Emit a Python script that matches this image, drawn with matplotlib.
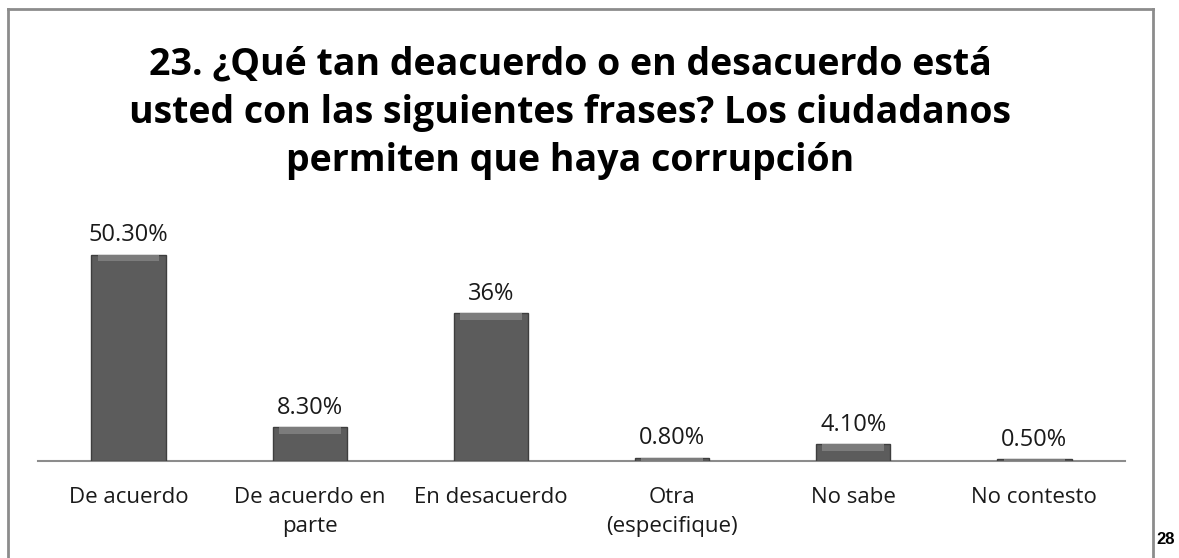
import matplotlib
matplotlib.use("Agg")
import matplotlib.pyplot as plt
from matplotlib.lines import Line2D

categories = ["De acuerdo", "De acuerdo en\nparte", "En desacuerdo",
              "Otra\n(especifique)", "No sabe", "No contesto"]
values = [50.3, 8.3, 36, 0.8, 4.1, 0.5]
value_labels = ["50.30%", "8.30%", "36%", "0.80%", "4.10%", "0.50%"]
title = ("23. ¿Qué tan deacuerdo o en desacuerdo está\n"
         "usted con las siguientes frases? Los ciudadanos\n"
         "permiten que haya corrupción")

plt.rcParams["font.family"] = ["Open Sans", "DejaVu Sans"]

W, H = 1179, 558
fig = plt.figure(figsize=(W / 100, H / 100), dpi=100)
fig.patch.set_facecolor("white")

# outer frame (bottom edge runs off the page)
frame = dict(color="#8c8c8c", lw=2)
fig.add_artist(Line2D([8 / W, 8 / W], [0, 1 - 9 / H], **frame))
fig.add_artist(Line2D([8 / W, 1153 / W], [1 - 9 / H, 1 - 9 / H], **frame))
fig.add_artist(Line2D([1153 / W, 1153 / W], [0, 1 - 9 / H], **frame))

ax = fig.add_axes([38 / W, 1 - 461 / H, (1125 - 38) / W, 231 / H])
x = list(range(len(categories)))
ax.bar(x, values, width=0.41, color="#5c5c5c", edgecolor="#3e3e3e",
       linewidth=1.0, zorder=3)
# light bevel along the top of each bar
bevel = [min(v, 1.6) for v in values]
ax.bar(x, bevel, bottom=[v - b for v, b in zip(values, bevel)],
       width=0.34, color="#7c7c7c", linewidth=0, zorder=4)

for xi, v, lab in zip(x, values, value_labels):
    ax.text(xi, v + 1.8, lab, ha="center", va="bottom", fontsize=17, color="#1a1a1a")

ax.set_xlim(-0.5, 5.5)
ax.set_ylim(0, 231 / 4.1)
ax.set_xticks(x)
ax.set_xticklabels(categories, fontsize=16, color="#1a1a1a", va="top", linespacing=1.45)
ax.tick_params(axis="x", length=0, pad=19)
ax.set_yticks([])
for s in ["top", "right", "left"]:
    ax.spines[s].set_visible(False)
ax.spines["bottom"].set_color("#8c8c8c")
ax.spines["bottom"].set_linewidth(1.5)

fig.text(570 / W, 1 - 113 / H, title, ha="center", va="center", fontsize=27,
         fontweight="bold", color="black", linespacing=1.35)
fig.text(1166 / W, 1 - 540 / H, "28", ha="center", va="center", fontsize=12,
         fontweight="bold", family="Liberation Sans")

fig.savefig("out.png", dpi=100)
